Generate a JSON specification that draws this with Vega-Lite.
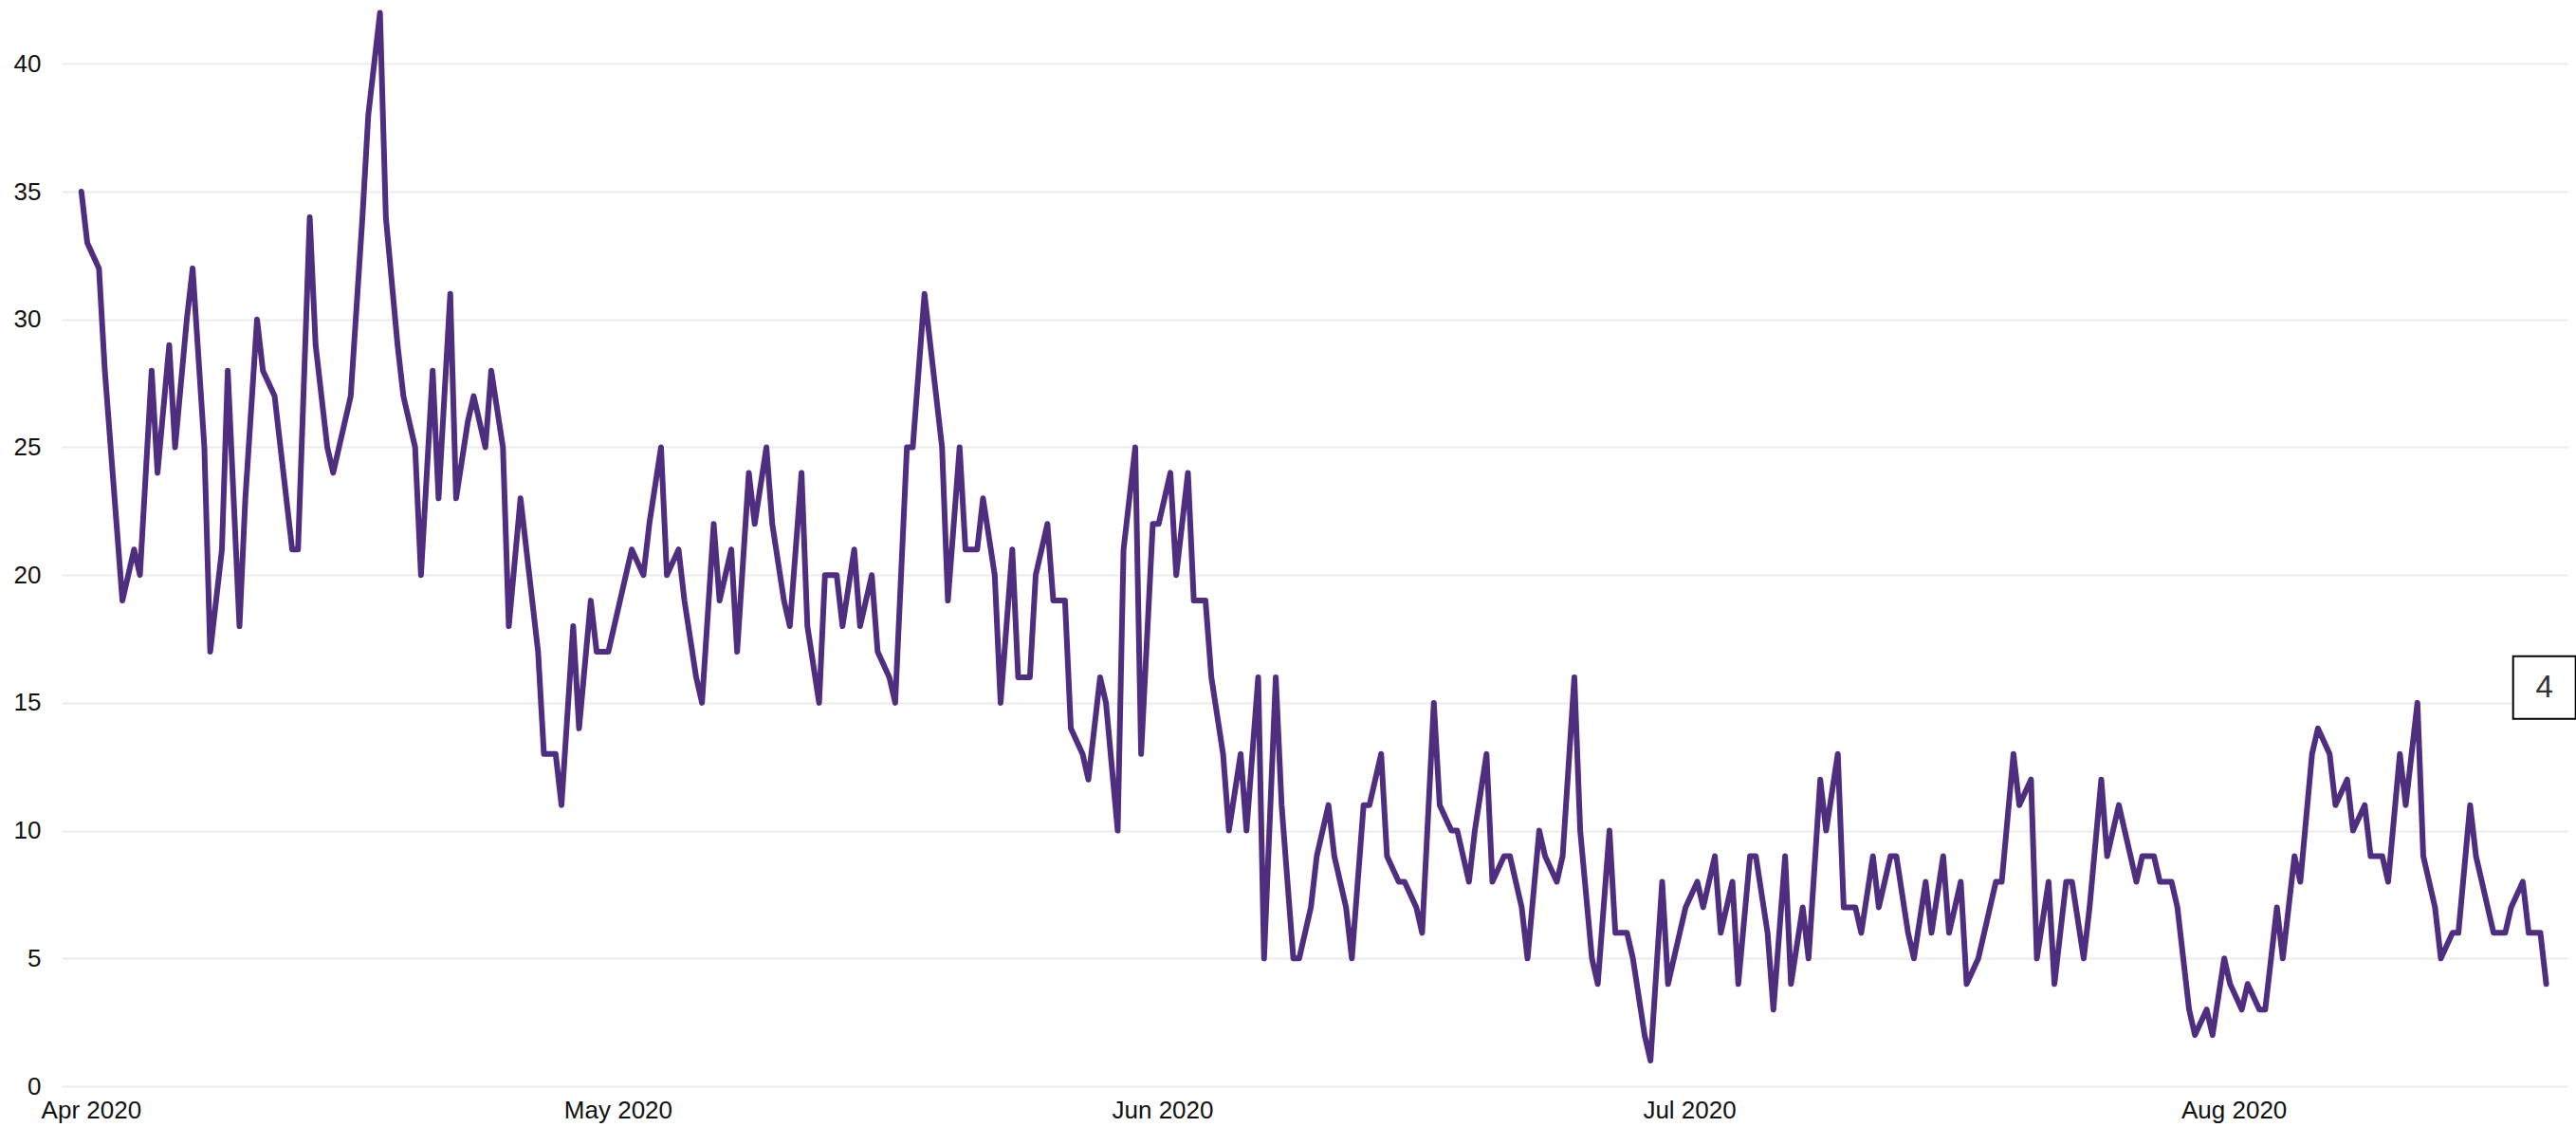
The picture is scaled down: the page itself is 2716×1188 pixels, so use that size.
{
  "$schema": "https://vega.github.io/schema/vega-lite/v6.json",
  "width": 2642,
  "height": 1145,
  "autosize": {"type": "none"},
  "padding": {"left": 65, "top": 0, "right": 9, "bottom": 43},
  "background": "white",
  "config": {
    "view": {"stroke": null},
    "font": "Liberation Sans"
  },
  "datasets": {
    "series": [
      {"t":"2020-03-31T11:00:00","v":35},{"t":"2020-03-31T19:00:00","v":33},
      {"t":"2020-04-01T11:00:00","v":32},{"t":"2020-04-01T19:00:00","v":28},
      {"t":"2020-04-02T11:00:00","v":22},{"t":"2020-04-02T19:00:00","v":19},
      {"t":"2020-04-03T11:00:00","v":21},{"t":"2020-04-03T19:00:00","v":20},
      {"t":"2020-04-04T11:00:00","v":28},{"t":"2020-04-04T19:00:00","v":24},
      {"t":"2020-04-05T11:00:00","v":29},{"t":"2020-04-05T19:00:00","v":25},
      {"t":"2020-04-06T11:00:00","v":30},{"t":"2020-04-06T19:00:00","v":32},
      {"t":"2020-04-07T11:00:00","v":25},{"t":"2020-04-07T19:00:00","v":17},
      {"t":"2020-04-08T11:00:00","v":21},{"t":"2020-04-08T19:00:00","v":28},
      {"t":"2020-04-09T11:00:00","v":18},{"t":"2020-04-09T19:00:00","v":23},
      {"t":"2020-04-10T11:00:00","v":30},{"t":"2020-04-10T19:00:00","v":28},
      {"t":"2020-04-11T11:00:00","v":27},{"t":"2020-04-11T19:00:00","v":25},
      {"t":"2020-04-12T11:00:00","v":21},{"t":"2020-04-12T19:00:00","v":21},
      {"t":"2020-04-13T11:00:00","v":34},{"t":"2020-04-13T19:00:00","v":29},
      {"t":"2020-04-14T11:00:00","v":25},{"t":"2020-04-14T19:00:00","v":24},
      {"t":"2020-04-15T11:00:00","v":26},{"t":"2020-04-15T19:00:00","v":27},
      {"t":"2020-04-16T11:00:00","v":34},{"t":"2020-04-16T19:00:00","v":38},
      {"t":"2020-04-17T11:00:00","v":42},{"t":"2020-04-17T19:00:00","v":34},
      {"t":"2020-04-18T11:00:00","v":29},{"t":"2020-04-18T19:00:00","v":27},
      {"t":"2020-04-19T11:00:00","v":25},{"t":"2020-04-19T19:00:00","v":20},
      {"t":"2020-04-20T11:00:00","v":28},{"t":"2020-04-20T19:00:00","v":23},
      {"t":"2020-04-21T11:00:00","v":31},{"t":"2020-04-21T19:00:00","v":23},
      {"t":"2020-04-22T11:00:00","v":26},{"t":"2020-04-22T19:00:00","v":27},
      {"t":"2020-04-23T11:00:00","v":25},{"t":"2020-04-23T19:00:00","v":28},
      {"t":"2020-04-24T11:00:00","v":25},{"t":"2020-04-24T19:00:00","v":18},
      {"t":"2020-04-25T11:00:00","v":23},{"t":"2020-04-25T19:00:00","v":21},
      {"t":"2020-04-26T11:00:00","v":17},{"t":"2020-04-26T19:00:00","v":13},
      {"t":"2020-04-27T11:00:00","v":13},{"t":"2020-04-27T19:00:00","v":11},
      {"t":"2020-04-28T11:00:00","v":18},{"t":"2020-04-28T19:00:00","v":14},
      {"t":"2020-04-29T11:00:00","v":19},{"t":"2020-04-29T19:00:00","v":17},
      {"t":"2020-04-30T11:00:00","v":17},{"t":"2020-04-30T19:00:00","v":18},
      {"t":"2020-05-01T11:00:00","v":20},{"t":"2020-05-01T19:00:00","v":21},
      {"t":"2020-05-02T11:00:00","v":20},{"t":"2020-05-02T19:00:00","v":22},
      {"t":"2020-05-03T11:00:00","v":25},{"t":"2020-05-03T19:00:00","v":20},
      {"t":"2020-05-04T11:00:00","v":21},{"t":"2020-05-04T19:00:00","v":19},
      {"t":"2020-05-05T11:00:00","v":16},{"t":"2020-05-05T19:00:00","v":15},
      {"t":"2020-05-06T11:00:00","v":22},{"t":"2020-05-06T19:00:00","v":19},
      {"t":"2020-05-07T11:00:00","v":21},{"t":"2020-05-07T19:00:00","v":17},
      {"t":"2020-05-08T11:00:00","v":24},{"t":"2020-05-08T19:00:00","v":22},
      {"t":"2020-05-09T11:00:00","v":25},{"t":"2020-05-09T19:00:00","v":22},
      {"t":"2020-05-10T11:00:00","v":19},{"t":"2020-05-10T19:00:00","v":18},
      {"t":"2020-05-11T11:00:00","v":24},{"t":"2020-05-11T19:00:00","v":18},
      {"t":"2020-05-12T11:00:00","v":15},{"t":"2020-05-12T19:00:00","v":20},
      {"t":"2020-05-13T11:00:00","v":20},{"t":"2020-05-13T19:00:00","v":18},
      {"t":"2020-05-14T11:00:00","v":21},{"t":"2020-05-14T19:00:00","v":18},
      {"t":"2020-05-15T11:00:00","v":20},{"t":"2020-05-15T19:00:00","v":17},
      {"t":"2020-05-16T11:00:00","v":16},{"t":"2020-05-16T19:00:00","v":15},
      {"t":"2020-05-17T11:00:00","v":25},{"t":"2020-05-17T19:00:00","v":25},
      {"t":"2020-05-18T11:00:00","v":31},{"t":"2020-05-18T19:00:00","v":29},
      {"t":"2020-05-19T11:00:00","v":25},{"t":"2020-05-19T19:00:00","v":19},
      {"t":"2020-05-20T11:00:00","v":25},{"t":"2020-05-20T19:00:00","v":21},
      {"t":"2020-05-21T11:00:00","v":21},{"t":"2020-05-21T19:00:00","v":23},
      {"t":"2020-05-22T11:00:00","v":20},{"t":"2020-05-22T19:00:00","v":15},
      {"t":"2020-05-23T11:00:00","v":21},{"t":"2020-05-23T19:00:00","v":16},
      {"t":"2020-05-24T11:00:00","v":16},{"t":"2020-05-24T19:00:00","v":20},
      {"t":"2020-05-25T11:00:00","v":22},{"t":"2020-05-25T19:00:00","v":19},
      {"t":"2020-05-26T11:00:00","v":19},{"t":"2020-05-26T19:00:00","v":14},
      {"t":"2020-05-27T11:00:00","v":13},{"t":"2020-05-27T19:00:00","v":12},
      {"t":"2020-05-28T11:00:00","v":16},{"t":"2020-05-28T19:00:00","v":15},
      {"t":"2020-05-29T11:00:00","v":10},{"t":"2020-05-29T19:00:00","v":21},
      {"t":"2020-05-30T11:00:00","v":25},{"t":"2020-05-30T19:00:00","v":13},
      {"t":"2020-05-31T11:00:00","v":22},{"t":"2020-05-31T19:00:00","v":22},
      {"t":"2020-06-01T11:00:00","v":24},{"t":"2020-06-01T19:00:00","v":20},
      {"t":"2020-06-02T11:00:00","v":24},{"t":"2020-06-02T19:00:00","v":19},
      {"t":"2020-06-03T11:00:00","v":19},{"t":"2020-06-03T19:00:00","v":16},
      {"t":"2020-06-04T11:00:00","v":13},{"t":"2020-06-04T19:00:00","v":10},
      {"t":"2020-06-05T11:00:00","v":13},{"t":"2020-06-05T19:00:00","v":10},
      {"t":"2020-06-06T11:00:00","v":16},{"t":"2020-06-06T19:00:00","v":5},
      {"t":"2020-06-07T11:00:00","v":16},{"t":"2020-06-07T19:00:00","v":11},
      {"t":"2020-06-08T11:00:00","v":5},{"t":"2020-06-08T19:00:00","v":5},
      {"t":"2020-06-09T11:00:00","v":7},{"t":"2020-06-09T19:00:00","v":9},
      {"t":"2020-06-10T11:00:00","v":11},{"t":"2020-06-10T19:00:00","v":9},
      {"t":"2020-06-11T11:00:00","v":7},{"t":"2020-06-11T19:00:00","v":5},
      {"t":"2020-06-12T11:00:00","v":11},{"t":"2020-06-12T19:00:00","v":11},
      {"t":"2020-06-13T11:00:00","v":13},{"t":"2020-06-13T19:00:00","v":9},
      {"t":"2020-06-14T11:00:00","v":8},{"t":"2020-06-14T19:00:00","v":8},
      {"t":"2020-06-15T11:00:00","v":7},{"t":"2020-06-15T19:00:00","v":6},
      {"t":"2020-06-16T11:00:00","v":15},{"t":"2020-06-16T19:00:00","v":11},
      {"t":"2020-06-17T11:00:00","v":10},{"t":"2020-06-17T19:00:00","v":10},
      {"t":"2020-06-18T11:00:00","v":8},{"t":"2020-06-18T19:00:00","v":10},
      {"t":"2020-06-19T11:00:00","v":13},{"t":"2020-06-19T19:00:00","v":8},
      {"t":"2020-06-20T11:00:00","v":9},{"t":"2020-06-20T19:00:00","v":9},
      {"t":"2020-06-21T11:00:00","v":7},{"t":"2020-06-21T19:00:00","v":5},
      {"t":"2020-06-22T11:00:00","v":10},{"t":"2020-06-22T19:00:00","v":9},
      {"t":"2020-06-23T11:00:00","v":8},{"t":"2020-06-23T19:00:00","v":9},
      {"t":"2020-06-24T11:00:00","v":16},{"t":"2020-06-24T19:00:00","v":10},
      {"t":"2020-06-25T11:00:00","v":5},{"t":"2020-06-25T19:00:00","v":4},
      {"t":"2020-06-26T11:00:00","v":10},{"t":"2020-06-26T19:00:00","v":6},
      {"t":"2020-06-27T11:00:00","v":6},{"t":"2020-06-27T19:00:00","v":5},
      {"t":"2020-06-28T11:00:00","v":2},{"t":"2020-06-28T19:00:00","v":1},
      {"t":"2020-06-29T11:00:00","v":8},{"t":"2020-06-29T19:00:00","v":4},
      {"t":"2020-06-30T11:00:00","v":6},{"t":"2020-06-30T19:00:00","v":7},
      {"t":"2020-07-01T11:00:00","v":8},{"t":"2020-07-01T19:00:00","v":7},
      {"t":"2020-07-02T11:00:00","v":9},{"t":"2020-07-02T19:00:00","v":6},
      {"t":"2020-07-03T11:00:00","v":8},{"t":"2020-07-03T19:00:00","v":4},
      {"t":"2020-07-04T11:00:00","v":9},{"t":"2020-07-04T19:00:00","v":9},
      {"t":"2020-07-05T11:00:00","v":6},{"t":"2020-07-05T19:00:00","v":3},
      {"t":"2020-07-06T11:00:00","v":9},{"t":"2020-07-06T19:00:00","v":4},
      {"t":"2020-07-07T11:00:00","v":7},{"t":"2020-07-07T19:00:00","v":5},
      {"t":"2020-07-08T11:00:00","v":12},{"t":"2020-07-08T19:00:00","v":10},
      {"t":"2020-07-09T11:00:00","v":13},{"t":"2020-07-09T19:00:00","v":7},
      {"t":"2020-07-10T11:00:00","v":7},{"t":"2020-07-10T19:00:00","v":6},
      {"t":"2020-07-11T11:00:00","v":9},{"t":"2020-07-11T19:00:00","v":7},
      {"t":"2020-07-12T11:00:00","v":9},{"t":"2020-07-12T19:00:00","v":9},
      {"t":"2020-07-13T11:00:00","v":6},{"t":"2020-07-13T19:00:00","v":5},
      {"t":"2020-07-14T11:00:00","v":8},{"t":"2020-07-14T19:00:00","v":6},
      {"t":"2020-07-15T11:00:00","v":9},{"t":"2020-07-15T19:00:00","v":6},
      {"t":"2020-07-16T11:00:00","v":8},{"t":"2020-07-16T19:00:00","v":4},
      {"t":"2020-07-17T11:00:00","v":5},{"t":"2020-07-17T19:00:00","v":6},
      {"t":"2020-07-18T11:00:00","v":8},{"t":"2020-07-18T19:00:00","v":8},
      {"t":"2020-07-19T11:00:00","v":13},{"t":"2020-07-19T19:00:00","v":11},
      {"t":"2020-07-20T11:00:00","v":12},{"t":"2020-07-20T19:00:00","v":5},
      {"t":"2020-07-21T11:00:00","v":8},{"t":"2020-07-21T19:00:00","v":4},
      {"t":"2020-07-22T11:00:00","v":8},{"t":"2020-07-22T19:00:00","v":8},
      {"t":"2020-07-23T11:00:00","v":5},{"t":"2020-07-23T19:00:00","v":7},
      {"t":"2020-07-24T11:00:00","v":12},{"t":"2020-07-24T19:00:00","v":9},
      {"t":"2020-07-25T11:00:00","v":11},{"t":"2020-07-25T19:00:00","v":10},
      {"t":"2020-07-26T11:00:00","v":8},{"t":"2020-07-26T19:00:00","v":9},
      {"t":"2020-07-27T11:00:00","v":9},{"t":"2020-07-27T19:00:00","v":8},
      {"t":"2020-07-28T11:00:00","v":8},{"t":"2020-07-28T19:00:00","v":7},
      {"t":"2020-07-29T11:00:00","v":3},{"t":"2020-07-29T19:00:00","v":2},
      {"t":"2020-07-30T11:00:00","v":3},{"t":"2020-07-30T19:00:00","v":2},
      {"t":"2020-07-31T11:00:00","v":5},{"t":"2020-07-31T19:00:00","v":4},
      {"t":"2020-08-01T11:00:00","v":3},{"t":"2020-08-01T19:00:00","v":4},
      {"t":"2020-08-02T11:00:00","v":3},{"t":"2020-08-02T19:00:00","v":3},
      {"t":"2020-08-03T11:00:00","v":7},{"t":"2020-08-03T19:00:00","v":5},
      {"t":"2020-08-04T11:00:00","v":9},{"t":"2020-08-04T19:00:00","v":8},
      {"t":"2020-08-05T11:00:00","v":13},{"t":"2020-08-05T19:00:00","v":14},
      {"t":"2020-08-06T11:00:00","v":13},{"t":"2020-08-06T19:00:00","v":11},
      {"t":"2020-08-07T11:00:00","v":12},{"t":"2020-08-07T19:00:00","v":10},
      {"t":"2020-08-08T11:00:00","v":11},{"t":"2020-08-08T19:00:00","v":9},
      {"t":"2020-08-09T11:00:00","v":9},{"t":"2020-08-09T19:00:00","v":8},
      {"t":"2020-08-10T11:00:00","v":13},{"t":"2020-08-10T19:00:00","v":11},
      {"t":"2020-08-11T11:00:00","v":15},{"t":"2020-08-11T19:00:00","v":9},
      {"t":"2020-08-12T11:00:00","v":7},{"t":"2020-08-12T19:00:00","v":5},
      {"t":"2020-08-13T11:00:00","v":6},{"t":"2020-08-13T19:00:00","v":6},
      {"t":"2020-08-14T11:00:00","v":11},{"t":"2020-08-14T19:00:00","v":9},
      {"t":"2020-08-15T11:00:00","v":7},{"t":"2020-08-15T19:00:00","v":6},
      {"t":"2020-08-16T11:00:00","v":6},{"t":"2020-08-16T19:00:00","v":7},
      {"t":"2020-08-17T11:00:00","v":8},{"t":"2020-08-17T19:00:00","v":6},
      {"t":"2020-08-18T11:00:00","v":6},{"t":"2020-08-18T19:00:00","v":4}
    ],
    "label": [
      {"t":"2020-08-18T16:30:00","v":15.6,"text":"4"}
    ]
  },
  "layer": [
    {
      "data": {"name": "series"},
      "mark": {"type": "line", "color": "#4f2d7f", "strokeWidth": 6, "strokeJoin": "round", "strokeCap": "round", "clip": false},
      "encoding": {
        "x": {
          "field": "t", "type": "temporal",
          "scale": {"domain": [{"year": 2020, "month": 3, "date": 30, "hours": 8}, {"year": 2020, "month": 8, "date": 20}], "nice": false},
          "axis": {
            "title": null,
            "format": "%b %Y",
            "tickCount": {"interval": "month", "step": 1},
            "grid": false,
            "domain": false,
            "ticks": false,
            "tickSize": 0,
            "labelPadding": 12,
            "labelFontSize": 26,
            "labelColor": "#111111",
            "labelFont": "Liberation Sans",
            "labelAlign": "center",
            "labelFlush": false,
            "labelOverlap": false,
            "labelBound": false
          }
        },
        "y": {
          "field": "v", "type": "quantitative",
          "scale": {"domain": [0, 42.5], "nice": false, "zero": true},
          "axis": {
            "title": null,
            "values": [0, 5, 10, 15, 20, 25, 30, 35, 40],
            "grid": true,
            "gridColor": "#ececec",
            "gridWidth": 2,
            "domain": false,
            "ticks": false,
            "tickSize": 0,
            "labelPadding": 22,
            "labelFontSize": 26,
            "labelColor": "#111111",
            "labelFont": "Liberation Sans",
            "labelBaseline": "middle"
          }
        }
      }
    },
    {
      "data": {"name": "label"},
      "mark": {"type": "point", "shape": "square", "size": 4356, "filled": true, "fill": "white", "stroke": "black", "strokeWidth": 2, "opacity": 1, "clip": false},
      "encoding": {
        "x": {"field": "t", "type": "temporal"},
        "y": {"field": "v", "type": "quantitative"}
      }
    },
    {
      "data": {"name": "label"},
      "mark": {"type": "text", "fontSize": 33, "color": "#333333", "font": "Liberation Sans", "align": "center", "baseline": "middle", "clip": false},
      "encoding": {
        "x": {"field": "t", "type": "temporal"},
        "y": {"field": "v", "type": "quantitative"},
        "text": {"field": "text"}
      }
    }
  ]
}
